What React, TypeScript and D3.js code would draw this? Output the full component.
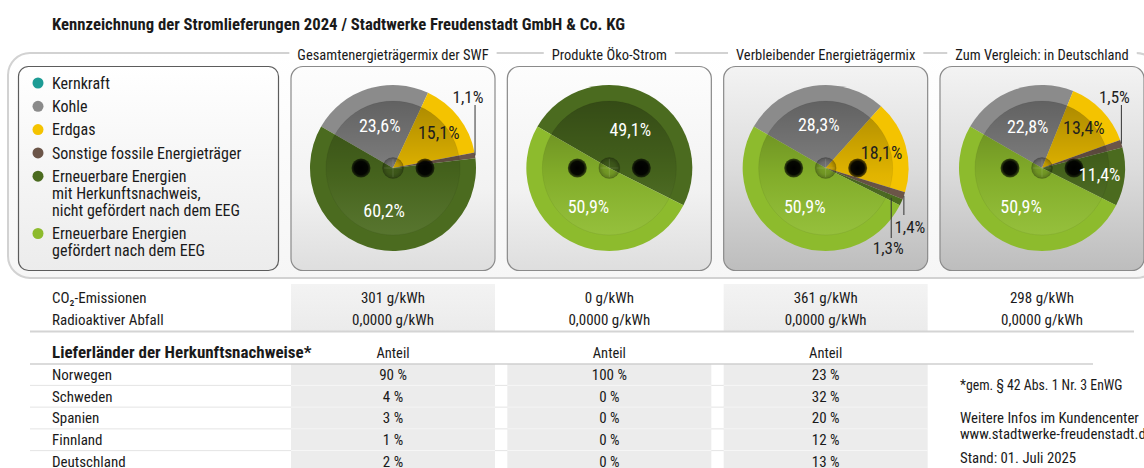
import React, { useEffect, useRef } from "react";
import * as d3 from "d3";

const W = 1144;
const H = 468;
const FONT = `"Liberation Sans Narrow", "Roboto Condensed", "DejaVu Sans Condensed", "Liberation Sans", sans-serif`;

// ---------- data ----------
const titleText = "Kennzeichnung der Stromlieferungen 2024 / Stadtwerke Freudenstadt GmbH & Co. KG";
const categories = [
  "Kernkraft",
  "Kohle",
  "Erdgas",
  "Sonstige fossile Energieträger",
  "Erneuerbare Energien mit Herkunftsnachweis, nicht gefördert nach dem EEG",
  "Erneuerbare Energien gefördert nach dem EEG",
];
const legendLines = [
  ["Kernkraft"],
  ["Kohle"],
  ["Erdgas"],
  ["Sonstige fossile Energieträger"],
  ["Erneuerbare Energien", "mit Herkunftsnachweis,", "nicht gefördert nach dem EEG"],
  ["Erneuerbare Energien", "gefördert nach dem EEG"],
];
const categoryColors = ["#1d9c95", "#8b8b8b", "#f4c300", "#6b5548", "#4b6b1f", "#8dbb2d"];
const categoryLabelColors = ["#ffffff", "#ffffff", "#1e1e1e", "#ffffff", "#ffffff", "#ffffff"];

const panelTitles = [
  "Gesamtenergieträgermix der SWF",
  "Produkte Öko-Strom",
  "Verbleibender Energieträgermix",
  "Zum Vergleich: in Deutschland",
];
const mixSWF = [0, 23.6, 15.1, 1.1, 60.2, 0];
const mixOeko = [0, 0, 0, 0, 49.1, 50.9];
const mixRest = [0, 28.3, 18.1, 1.4, 1.3, 50.9];
const mixDE = [0, 22.8, 13.4, 1.5, 11.4, 50.9];
const mixes = [mixSWF, mixOeko, mixRest, mixDE];

const tableRowLabels = ["CO₂-Emissionen", "Radioaktiver Abfall"];
const co2Values = ["301 g/kWh", "0 g/kWh", "361 g/kWh", "298 g/kWh"];
const wasteValues = ["0,0000 g/kWh", "0,0000 g/kWh", "0,0000 g/kWh", "0,0000 g/kWh"];

const countriesHeading = "Lieferländer der Herkunftsnachweise*";
const shareHeader = "Anteil";
const countries = ["Norwegen", "Schweden", "Spanien", "Finnland", "Deutschland"];
const shareSWF = [90, 4, 3, 1, 2];
const shareOeko = [100, 0, 0, 0, 0];
const shareRest = [23, 32, 20, 12, 13];
const shares = [shareSWF, shareOeko, shareRest];

const notes = [
  "*gem. § 42 Abs. 1 Nr. 3 EnWG",
  "Weitere Infos im Kundencenter",
  "www.stadtwerke-freudenstadt.de",
  "Stand: 01. Juli 2025",
];

// ---------- component ----------
export default function App() {
  const ref = useRef<SVGSVGElement>(null);

  useEffect(() => {
    const svg = d3.select(ref.current as SVGSVGElement);
    svg.selectAll("*").remove();
    const defs = svg.append("defs");

    const lin = (id: string, stops: [number, string, number?][]) => {
      const g = defs.append("linearGradient").attr("id", id)
        .attr("x1", 0).attr("y1", 0).attr("x2", 0).attr("y2", 1);
      stops.forEach(([o, c, op]) =>
        g.append("stop").attr("offset", o).attr("stop-color", c).attr("stop-opacity", op ?? 1));
    };
    const rad = (id: string, stops: [number, string, number?][]) => {
      const g = defs.append("radialGradient").attr("id", id);
      stops.forEach(([o, c, op]) =>
        g.append("stop").attr("offset", o).attr("stop-color", c).attr("stop-opacity", op ?? 1));
    };
    lin("frameGrad", [[0, "#ffffff"], [1, "#f6f6f6"]]);
    lin("legendGrad", [[0, "#ffffff"], [1, "#ececec"]]);
    lin("panelLight", [[0, "#fdfdfd"], [0.6, "#f2f2f2"], [1, "#dedede"]]);
    lin("panelDark", [[0, "#f3f3f3"], [0.5, "#dcdcdc"], [1, "#bdbdbd"]]);
    lin("innerShade", [[0, "#000", 0.3], [0.55, "#000", 0.08], [1, "#fff", 0.07]]);
    lin("bandGrad", [[0, "#f3f3f3"], [1, "#ebebeb"]]);
    rad("holeGrad", [[0, "#000", 1], [0.7, "#000", 0.95], [1, "#000", 0.55]]);
    rad("pinGrad", [[0, "#000", 0.05], [0.6, "#000", 0.14], [1, "#000", 0.32]]);

    const xPanel = d3.scaleLinear().domain([0, 3]).range([393, 1042]);
    const PIE_CY = 168;
    const R = 83;
    const R_IN = 67;
    const HALF = 102;

    // Title
    svg.append("text").attr("x", 52).attr("y", 30)
      .attr("font-family", FONT).attr("font-size", 17).attr("font-weight", "bold")
      .attr("fill", "#1a1a1a")
      .attr("textLength", 573).attr("lengthAdjust", "spacingAndGlyphs")
      .text(titleText);

    // Outer frame
    svg.append("rect").attr("x", 8).attr("y", 53).attr("width", 1150).attr("height", 225)
      .attr("rx", 22).attr("fill", "url(#frameGrad)").attr("stroke", "#d2d2d2").attr("stroke-width", 2);

    // Legend box
    svg.append("rect").attr("x", 18.5).attr("y", 66.5).attr("width", 260).attr("height", 204)
      .attr("rx", 10).attr("fill", "url(#legendGrad)").attr("stroke", "#5c5c5c").attr("stroke-width", 1.2);

    let ly = 83;
    const LINE_H = 17;
    legendLines.forEach((lines, i) => {
      svg.append("circle").attr("cx", 38).attr("cy", ly).attr("r", 5.5).attr("fill", categoryColors[i]);
      const t = svg.append("text").attr("font-family", FONT).attr("font-size", 16).attr("fill", "#1a1a1a");
      lines.forEach((ln, j) => {
        t.append("tspan").attr("x", 52).attr("y", ly + j * LINE_H).attr("dy", "0.36em").text(ln);
      });
      t.append("title").text(categories[i]);
      ly += 23.3 + (lines.length - 1) * LINE_H;
    });

    // Panel titles (knock out frame line)
    panelTitles.forEach((tt, i) => {
      const cx = xPanel(i);
      const bg = svg.append("rect");
      const t = svg.append("text").attr("x", cx).attr("y", 55).attr("dy", "0.36em")
        .attr("text-anchor", "middle").attr("font-family", FONT).attr("font-size", 14.5)
        .attr("fill", "#1a1a1a").text(tt);
      const w = (t.node() as SVGTextElement).getComputedTextLength();
      bg.attr("x", cx - w / 2 - 8).attr("y", 46).attr("width", w + 16).attr("height", 16).attr("fill", "#ffffff");
    });

    // Panels
    const pie = d3.pie<number>().sort(null).value((d) => d)
      .startAngle((-60 * Math.PI) / 180).endAngle((300 * Math.PI) / 180);
    const arcOuter = d3.arc<d3.PieArcDatum<number>>().innerRadius(0).outerRadius(R);
    const arcBig = d3.arc<d3.PieArcDatum<number>>().innerRadius(44).outerRadius(44);
    const arcMid = d3.arc<d3.PieArcDatum<number>>().innerRadius(58).outerRadius(58);
    const fmt = d3.formatLocale({ decimal: ",", thousands: ".", grouping: [3], currency: ["", "€"] }).format(".1f");

    mixes.forEach((mix, pi) => {
      const cx = xPanel(pi);
      svg.append("rect").attr("x", cx - HALF).attr("y", 66.5).attr("width", HALF * 2).attr("height", 204)
        .attr("rx", 12).attr("fill", pi < 2 ? "url(#panelLight)" : "url(#panelDark)")
        .attr("stroke", "#8a8a8a").attr("stroke-width", 1.2);

      const g = svg.append("g").attr("transform", `translate(${cx},${PIE_CY})`);
      const arcs = pie(mix).filter((a) => a.data > 0);
      g.selectAll("path.slice").data(arcs).join("path").attr("class", "slice")
        .attr("d", arcOuter).attr("fill", (d) => categoryColors[d.index]);
      // socket details
      g.append("circle").attr("r", R_IN).attr("fill", "url(#innerShade)")
        .attr("stroke", "#000").attr("stroke-opacity", 0.06);
      [-32, 32].forEach((hx) =>
        g.append("circle").attr("cx", hx).attr("r", 9.5).attr("fill", "url(#holeGrad)"));
      g.append("circle").attr("r", 10.5).attr("fill", "url(#pinGrad)")
        .attr("stroke", "#000").attr("stroke-opacity", 0.12);
      g.append("line").attr("x1", -9).attr("x2", 9).attr("stroke", "#fff").attr("stroke-opacity", 0.12);
      g.append("line").attr("y1", -9).attr("y2", 9).attr("stroke", "#fff").attr("stroke-opacity", 0.12);

      // labels
      let down = 0;
      arcs.forEach((a) => {
        const label = fmt(a.data) + "%";
        if (a.data >= 2) {
          const [lx, lyy] = (a.data > 20 ? arcBig : arcMid).centroid(a);
          g.append("text").attr("x", lx).attr("y", lyy).attr("dy", "0.35em")
            .attr("text-anchor", "middle").attr("font-family", FONT).attr("font-size", 18)
            .attr("fill", categoryLabelColors[a.index]).text(label);
        } else {
          const mid = (a.startAngle + a.endAngle) / 2;
          const isUp = Math.cos(mid) > 0;
          if (isUp) {
            const sx = R * Math.sin(mid);
            const sy = -R * Math.cos(mid);
            g.append("line").attr("x1", sx).attr("y1", sy).attr("x2", sx).attr("y2", -63)
              .attr("stroke", "#333").attr("stroke-width", 1);
            g.append("text").attr("x", sx - 7).attr("y", -71).attr("dy", "0.35em")
              .attr("text-anchor", "middle").attr("font-family", FONT).attr("font-size", 17)
              .attr("fill", "#1e1e1e").text(label);
          } else {
            const startR = [83, 72][down] ?? 72;
            const endY = [47, 70][down] ?? 70;
            const tdx = [6, -3][down] ?? 0;
            const ty = [59, 80][down] ?? 80;
            const sx = startR * Math.sin(mid);
            const sy = -startR * Math.cos(mid);
            g.append("line").attr("x1", sx).attr("y1", sy).attr("x2", sx).attr("y2", endY)
              .attr("stroke", "#333").attr("stroke-width", 1);
            g.append("text").attr("x", sx + tdx).attr("y", ty).attr("dy", "0.35em")
              .attr("text-anchor", "middle").attr("font-family", FONT).attr("font-size", 17)
              .attr("fill", "#1e1e1e").text(label);
            down++;
          }
        }
      });
    });

    // ---------- upper table ----------
    [0, 2].forEach((i) => {
      svg.append("rect").attr("x", xPanel(i) - HALF).attr("y", 284).attr("width", HALF * 2)
        .attr("height", 47).attr("fill", "url(#bandGrad)");
    });
    const rowY = [298, 320];
    tableRowLabels.forEach((lab, r) => {
      svg.append("text").attr("x", 52).attr("y", rowY[r]).attr("dy", "0.36em")
        .attr("font-family", FONT).attr("font-size", 15).attr("fill", "#1a1a1a").text(lab);
    });
    [co2Values, wasteValues].forEach((vals, r) => {
      vals.forEach((v, i) => {
        svg.append("text").attr("x", xPanel(i)).attr("y", rowY[r]).attr("dy", "0.36em")
          .attr("text-anchor", "middle").attr("font-family", FONT).attr("font-size", 15)
          .attr("fill", "#1a1a1a").text(v);
      });
    });
    svg.append("line").attr("x1", 30).attr("x2", 1134).attr("y1", 331.5).attr("y2", 331.5)
      .attr("stroke", "#d4d4d4").attr("stroke-width", 2);

    // ---------- lower table ----------
    shares.forEach((_, i) => {
      svg.append("rect").attr("x", xPanel(i) - HALF).attr("y", 364).attr("width", HALF * 2)
        .attr("height", H - 364).attr("fill", "#ececec");
    });
    svg.append("text").attr("x", 52).attr("y", 352).attr("dy", "0.36em")
      .attr("font-family", FONT).attr("font-size", 17).attr("font-weight", "bold")
      .attr("fill", "#1a1a1a").text(countriesHeading);
    shares.forEach((_, i) => {
      svg.append("text").attr("x", xPanel(i)).attr("y", 353).attr("dy", "0.36em")
        .attr("text-anchor", "middle").attr("font-family", FONT).attr("font-size", 14.5)
        .attr("fill", "#1a1a1a").text(shareHeader);
    });
    svg.append("line").attr("x1", 30).attr("x2", 1093).attr("y1", 364).attr("y2", 364)
      .attr("stroke", "#cfcfcf").attr("stroke-width", 1.5);

    const yRow = d3.scaleLinear().domain([0, countries.length - 1]).range([374.5, 461.5]);
    const rowStep = yRow(1) - yRow(0);
    countries.slice(0, -1).forEach((_, r) => {
      const yy = yRow(r) + rowStep / 2;
      svg.append("line").attr("x1", 30).attr("x2", 927).attr("y1", yy).attr("y2", yy)
        .attr("stroke", "#e4e4e4").attr("stroke-width", 1);
      shares.forEach((__, i) => {
        svg.append("line").attr("x1", xPanel(i) - HALF).attr("x2", xPanel(i) + HALF)
          .attr("y1", yy).attr("y2", yy).attr("stroke", "#f8f8f8").attr("stroke-width", 1);
      });
    });
    countries.forEach((c, r) => {
      svg.append("text").attr("x", 52).attr("y", yRow(r)).attr("dy", "0.36em")
        .attr("font-family", FONT).attr("font-size", 15).attr("fill", "#1a1a1a").text(c);
      shares.forEach((arr, i) => {
        svg.append("text").attr("x", xPanel(i)).attr("y", yRow(r)).attr("dy", "0.36em")
          .attr("text-anchor", "middle").attr("font-family", FONT).attr("font-size", 15)
          .attr("fill", "#1a1a1a").text(`${arr[r]} %`);
      });
    });

    // notes
    const noteY = [385, 418, 434, 458];
    notes.forEach((n, i) => {
      svg.append("text").attr("x", 960).attr("y", noteY[i]).attr("dy", "0.36em")
        .attr("font-family", FONT).attr("font-size", i === 0 ? 13.8 : 14.8).attr("fill", "#1a1a1a").text(n);
    });
  }, []);

  return (
    <svg
      ref={ref}
      width={W}
      height={H}
      viewBox={`0 0 ${W} ${H}`}
      style={{ position: "absolute", left: 0, top: 0, display: "block", background: "#ffffff" }}
    />
  );
}
